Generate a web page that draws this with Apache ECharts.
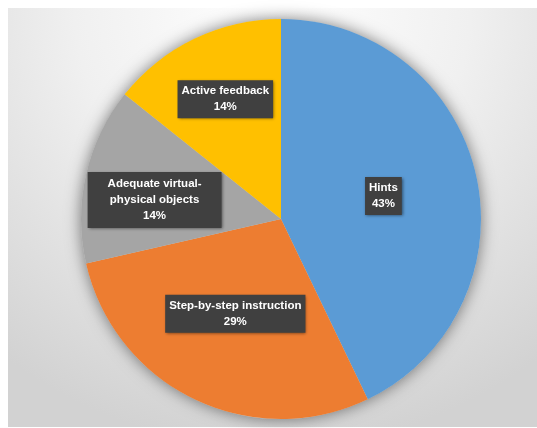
<!DOCTYPE html>
<html>
<head>
<meta charset="utf-8">
<script src="https://cdn.jsdelivr.net/npm/echarts@6/dist/echarts.min.js"></script>
<style>
html,body{margin:0;padding:0;background:#ffffff;}
#chart{width:537px;height:428px;}
</style>
</head>
<body>
<div id="chart"></div>
<script>
const categories = ['Hints', 'Step-by-step instruction', 'Adequate virtual-\nphysical objects', 'Active feedback'];
const values = [3, 2, 1, 1];
const colors = ['#5B9BD5', '#ED7D31', '#A5A5A5', '#FFC000'];
const labelShift = [[2, 0], [-1, 2], [-26, 4], [-11, -27]];

const chart = echarts.init(document.getElementById('chart'), null, {renderer: 'canvas'});
const total = values.reduce((a, b) => a + b, 0);

chart.setOption({
  animation: false,
  backgroundColor: '#ffffff',
  graphic: [{
    type: 'rect',
    z: -10,
    shape: {x: 8, y: 8, width: 529, height: 419},
    style: {
      fill: {
        type: 'radial', x: 0.5, y: 0.0, r: 1.05,
        colorStops: [
          {offset: 0, color: '#ffffff'},
          {offset: 0.45, color: '#f0f0f0'},
          {offset: 1, color: '#d2d2d2'}
        ]
      }
    }
  }],
  series: [
    {
      type: 'pie',
      silent: true,
      center: [281, 219],
      radius: [0, 200],
      z: 1,
      label: {show: false},
      labelLine: {show: false},
      itemStyle: {color: '#d0d0d0', shadowBlur: 16, shadowColor: 'rgba(0,0,0,0.5)'},
      data: [{value: total, name: 'shadow'}]
    },
    {
      type: 'pie',
      center: [281, 219],
      radius: [0, 200],
      startAngle: 90,
      clockwise: true,
      z: 2,
      data: categories.map((c, i) => ({
        name: c, value: values[i], itemStyle: {color: colors[i]},
        label: i === 2 ? {padding: [4, 20, 4, 20]} : undefined
      })),
      itemStyle: {borderWidth: 0},
      label: {
        show: true,
        position: 'inside',
        formatter: p => p.name + '\n' + Math.round(p.percent) + '%',
        color: '#ffffff',
        fontFamily: 'Liberation Sans, Arial, sans-serif',
        fontWeight: 'bold',
        fontSize: 11.5,
        lineHeight: 16,
        align: 'center',
        backgroundColor: '#404040',
        padding: [3, 4, 3, 4],
        shadowBlur: 3,
        shadowColor: 'rgba(0,0,0,0.5)',
        shadowOffsetX: 1,
        shadowOffsetY: 1
      },
      labelLayout: function (params) {
        const s = labelShift[params.dataIndex] || [0, 0];
        return {dx: s[0], dy: s[1]};
      },
      labelLine: {show: false}
    }
  ]
});
</script>
</body>
</html>
